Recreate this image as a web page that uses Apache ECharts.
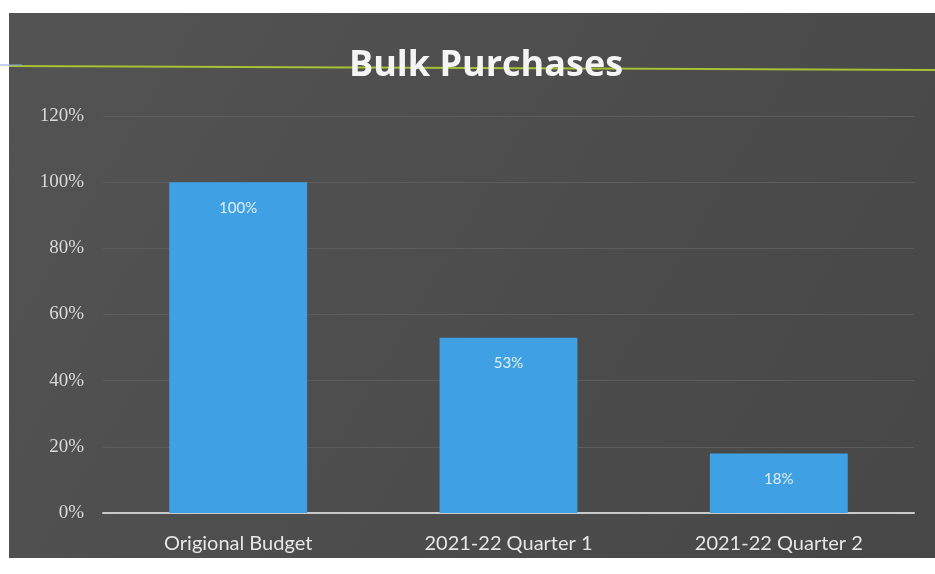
<!DOCTYPE html>
<html>
<head>
<meta charset="utf-8">
<style>
  html, body { margin: 0; padding: 0; background: #ffffff; }
  #chart { width: 935px; height: 574px; }
</style>
<script src="https://cdn.jsdelivr.net/npm/echarts@6/dist/echarts.min.js"></script>
</head>
<body>
<div id="chart"></div>
<script>
// Bulk purchases spent, as a share of the original budget
const categories = ['Origional Budget', '2021-22 Quarter 1', '2021-22 Quarter 2'];
const shares = [100, 53, 18];
const yTicks = [0, 20, 40, 60, 80, 100, 120];

const chart = echarts.init(document.getElementById('chart'), null, { renderer: 'canvas' });

chart.setOption({
  backgroundColor: '#ffffff',
  animation: false,
  graphic: [
    {
      type: 'rect',
      z: -10,
      shape: { x: 9, y: 13, width: 926, height: 545 },
      style: {
        fill: {
          type: 'linear', x: 0, y: 0, x2: 1, y2: 1,
          colorStops: [
            { offset: 0, color: '#535353' },
            { offset: 1, color: '#474747' }
          ]
        }
      }
    },
    {
      type: 'line',
      z: 1,
      shape: { x1: 9, y1: 66, x2: 935, y2: 70 },
      style: { stroke: '#a4c234', lineWidth: 2 }
    },
    {
      type: 'line',
      z: 1,
      shape: { x1: 0, y1: 65, x2: 22, y2: 65 },
      style: { stroke: '#8aa6e0', lineWidth: 1 }
    }
  ],
  title: {
    text: 'Bulk Purchases',
    left: 481,
    textAlign: 'center',
    top: 43,
    textStyle: {
      color: '#f4f4f4',
      fontSize: 36,
      fontWeight: 'bold',
      fontFamily: 'Open Sans'
    },
    z: 5
  },
  grid: { left: 103, right: 21, top: 116, bottom: 61 },
  xAxis: {
    type: 'category',
    data: categories,
    axisLine: { show: true, lineStyle: { color: '#c9c9c9', width: 2 } },
    axisTick: { show: false },
    axisLabel: {
      color: '#e6e6e6',
      fontSize: 20,
      fontFamily: 'Lato',
      margin: 21
    }
  },
  yAxis: {
    type: 'value',
    min: yTicks[0],
    max: yTicks[yTicks.length - 1],
    interval: 20,
    axisLine: { show: false },
    axisTick: { show: false },
    splitLine: { lineStyle: { color: '#5d5d5d', width: 1 } },
    axisLabel: {
      color: '#dadada',
      fontSize: 19,
      fontFamily: 'Liberation Serif',
      margin: 19,
      formatter: v => v + '%'
    }
  },
  series: [
    {
      type: 'bar',
      data: shares,
      barWidth: '51%',
      itemStyle: { color: '#3fa1e4' },
      label: {
        show: true,
        position: 'insideTop',
        distance: 18,
        color: '#e3eef8',
        fontSize: 15,
        fontFamily: 'Lato',
        formatter: p => p.value + '%'
      }
    }
  ]
});
</script>
</body>
</html>
